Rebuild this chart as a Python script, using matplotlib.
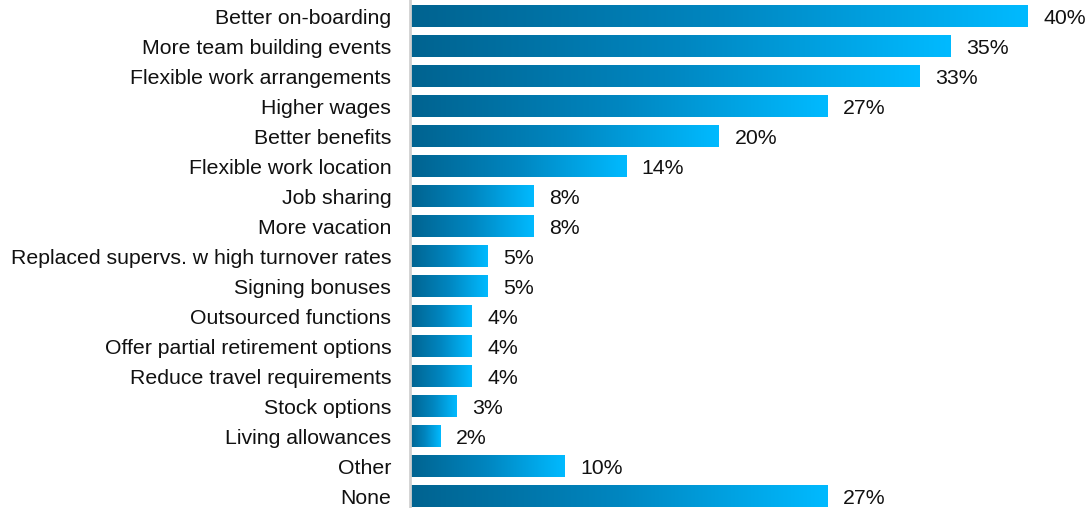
import numpy as np
import matplotlib
matplotlib.use("Agg")
import matplotlib.pyplot as plt
from matplotlib.colors import LinearSegmentedColormap

categories = [
    "Better on-boarding",
    "More team building events",
    "Flexible work arrangements",
    "Higher wages",
    "Better benefits",
    "Flexible work location",
    "Job sharing",
    "More vacation",
    "Replaced supervs. w high turnover rates",
    "Signing bonuses",
    "Outsourced functions",
    "Offer partial retirement options",
    "Reduce travel requirements",
    "Stock options",
    "Living allowances",
    "Other",
    "None",
]
values = [40, 35, 33, 27, 20, 14, 8, 8, 5, 5, 4, 4, 4, 3, 2, 10, 27]

plt.rcParams["font.family"] = ["Liberation Sans", "DejaVu Sans"]

W, H = 1091, 508
fig = plt.figure(figsize=(W / 100, H / 100), dpi=100)
ax = fig.add_axes([410 / W, 0, (W - 410) / W, 1])

cmap = LinearSegmentedColormap.from_list("bar_grad", ["#006390", "#0086c0", "#00baff"])
grad = np.linspace(0, 1, 256).reshape(1, -1)
bar_h = 0.7
fs = 15.3

for i, v in enumerate(values):
    ax.imshow(grad, cmap=cmap, aspect="auto", interpolation="bilinear",
              extent=(0, v, i + bar_h / 2, i - bar_h / 2), zorder=2)
    ax.text(v + 1.0, i + 0.06, f"{v}%", va="center", ha="left", fontsize=fs, color="#111111")

ax.set_xlim(0, (W - 410) / 15.45)
ax.set_ylim(16.383, -0.55)
ax.set_yticks(range(len(categories)))
ax.set_yticklabels(categories, fontsize=fs, color="#111111")
ax.tick_params(axis="y", length=0, pad=13.5)
ax.set_xticks([])
for side in ["top", "right", "bottom"]:
    ax.spines[side].set_visible(False)
ax.spines["left"].set_color("#d0d0d0")
ax.spines["left"].set_linewidth(2)

fig.savefig("out.png", dpi=100)
